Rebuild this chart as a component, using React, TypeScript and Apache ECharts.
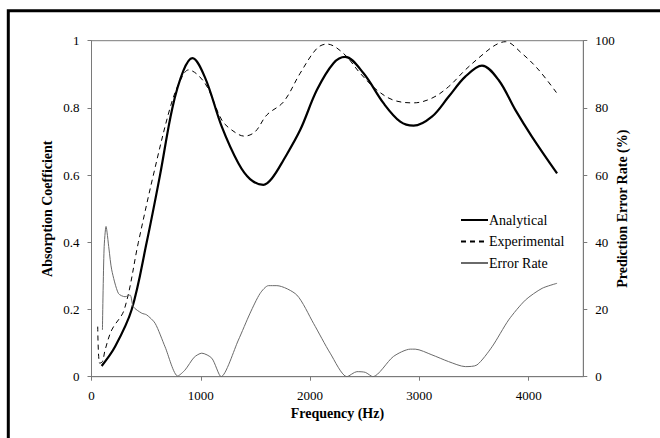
import React, { useEffect, useRef } from "react";
import * as echarts from "echarts";

const analyticalFreq = [93, 215, 368, 505, 627, 740, 840, 923, 1039, 1192, 1344, 1451, 1573, 1650, 1757, 1909, 2062, 2214, 2321, 2489, 2672, 2825, 2947, 3115, 3267, 3420, 3573, 3725, 3878, 4031, 4260];
const analyticalValues = [0.032, 0.089, 0.2, 0.4, 0.6, 0.8, 0.91, 0.948, 0.89, 0.744, 0.635, 0.588, 0.571, 0.59, 0.645, 0.734, 0.853, 0.933, 0.952, 0.903, 0.814, 0.759, 0.747, 0.774, 0.833, 0.893, 0.926, 0.883, 0.794, 0.714, 0.605];

const experimentalFreq = [57, 75, 100, 124, 185, 300, 429, 566, 719, 810, 887, 1039, 1192, 1284, 1399, 1497, 1604, 1757, 1909, 2062, 2154, 2306, 2459, 2612, 2764, 2947, 3115, 3267, 3420, 3573, 3695, 3787, 3939, 4092, 4260];
const experimentalValues = [0.149, 0.04, 0.045, 0.079, 0.139, 0.2, 0.4, 0.6, 0.8, 0.88, 0.913, 0.873, 0.764, 0.734, 0.716, 0.729, 0.779, 0.818, 0.903, 0.977, 0.99, 0.962, 0.903, 0.853, 0.823, 0.815, 0.829, 0.863, 0.913, 0.957, 0.987, 0.997, 0.962, 0.913, 0.843];

const errorFreq = [100, 115, 133, 160, 185, 246, 307, 353, 383, 460, 505, 582, 673, 789, 856, 940, 1009, 1101, 1186, 1344, 1451, 1543, 1619, 1696, 1879, 2031, 2184, 2337, 2428, 2505, 2575, 2762, 2917, 2962, 3115, 3267, 3420, 3527, 3665, 3817, 3970, 4123, 4260];
const errorValues = [13.9, 38, 44.7, 38, 31.8, 24.8, 23.8, 24.3, 20.8, 18.9, 18.4, 15.9, 8.9, 0.2, 2, 5.8, 7.0, 5.5, 0, 10.9, 18.9, 24.8, 27.1, 27.1, 24.3, 15.9, 7.0, 0, 1.5, 1.3, 0, 6.0, 8.2, 8.2, 6.5, 4.5, 3.0, 3.5, 8.9, 16.9, 22.8, 26.3, 27.8];

const xTicks = [0, 1000, 2000, 3000, 4000];

const SERIF = "'Liberation Serif', 'Times New Roman', serif";
const AXIS_COLOR = "#7a7a7a";

function pairs(xs: number[], ys: number[]) {
  return xs.map((x, i) => [x, ys[i]]);
}

export default function App() {
  const ref = useRef<HTMLDivElement>(null);
  useEffect(() => {
    if (!ref.current) return;
    const chart = echarts.init(ref.current, null, { renderer: "svg" });
    const axisCommon = {
      axisLine: { show: true, lineStyle: { color: AXIS_COLOR, width: 1 } },
      axisTick: { show: true, length: 4, inside: false, lineStyle: { color: AXIS_COLOR } },
      splitLine: { show: false },
      nameMoveOverlap: false,
      nameTextStyle: { fontFamily: SERIF, fontWeight: "bold", fontSize: 14, color: "#000" },
    };
    const labelStyle = { fontFamily: SERIF, fontSize: 13, color: "#000" };
    chart.setOption({
      animation: false,
      backgroundColor: "#fff",
      textStyle: { fontFamily: SERIF },
      grid: {
        left: 91.5,
        right: 76.7,
        top: 40.7,
        bottom: 61.3,
        show: true,
        borderColor: AXIS_COLOR,
        borderWidth: 1,
        containLabel: false,
      },
      graphic: [
        {
          type: "rect",
          shape: { x: 8.3, y: 10.7, width: 700, height: 500 },
          style: { fill: "none", stroke: "#000", lineWidth: 3 },
          silent: true,
        },
      ],
      legend: {
        orient: "vertical",
        left: 460,
        top: 213,
        padding: 0,
        itemWidth: 27,
        itemHeight: 14,
        itemGap: 7.5,
        itemStyle: { color: "transparent", borderWidth: 0, opacity: 0 },
        textStyle: { fontFamily: SERIF, fontSize: 14, color: "#000", padding: [0, 0, 0, -4] },
        data: ["Analytical", "Experimental", "Error Rate"],
      },
      xAxis: {
        type: "value",
        min: 0,
        max: 4500,
        name: "Frequency (Hz)",
        nameLocation: "middle",
        nameGap: 30,
        ...axisCommon,
        axisLabel: {
          customValues: xTicks,
          margin: 12,
          formatter: (v: number) => String(v),
          ...labelStyle,
        },
        axisTick: { ...axisCommon.axisTick, customValues: xTicks },
      },
      yAxis: [
        {
          type: "value",
          min: 0,
          max: 1,
          interval: 0.2,
          position: "left",
          name: "Absorption Coefficient",
          nameLocation: "middle",
          nameGap: 37,
          ...axisCommon,
          axisLabel: { margin: 12, formatter: (v: number) => String(v), ...labelStyle },
        },
        {
          type: "value",
          min: 0,
          max: 100,
          interval: 20,
          position: "right",
          name: "Prediction Error Rate (%)",
          nameLocation: "middle",
          nameGap: 32,
          ...axisCommon,
          axisLabel: { margin: 12, align: "left", formatter: (v: number) => String(v), ...labelStyle },
        },
      ],
      series: [
        {
          name: "Analytical",
          type: "line",
          yAxisIndex: 0,
          data: pairs(analyticalFreq, analyticalValues),
          smooth: 0.35,
          symbol: "none",
          lineStyle: { color: "#000", width: 2.2 },
          itemStyle: { color: "#000" },
        },
        {
          name: "Experimental",
          type: "line",
          yAxisIndex: 0,
          data: pairs(experimentalFreq, experimentalValues),
          smooth: 0.35,
          symbol: "none",
          lineStyle: { color: "#000", width: 1, type: [5, 4] },
          itemStyle: { color: "#000" },
        },
        {
          name: "Error Rate",
          type: "line",
          yAxisIndex: 1,
          data: pairs(errorFreq, errorValues),
          smooth: 0.25,
          symbol: "none",
          lineStyle: { color: "#6a6a6a", width: 1 },
          itemStyle: { color: "#6a6a6a" },
        },
      ],
    });
    return () => chart.dispose();
  }, []);
  return (
    <div
      ref={ref}
      style={{ position: "fixed", left: 0, top: 0, width: 660, height: 438 }}
    />
  );
}
